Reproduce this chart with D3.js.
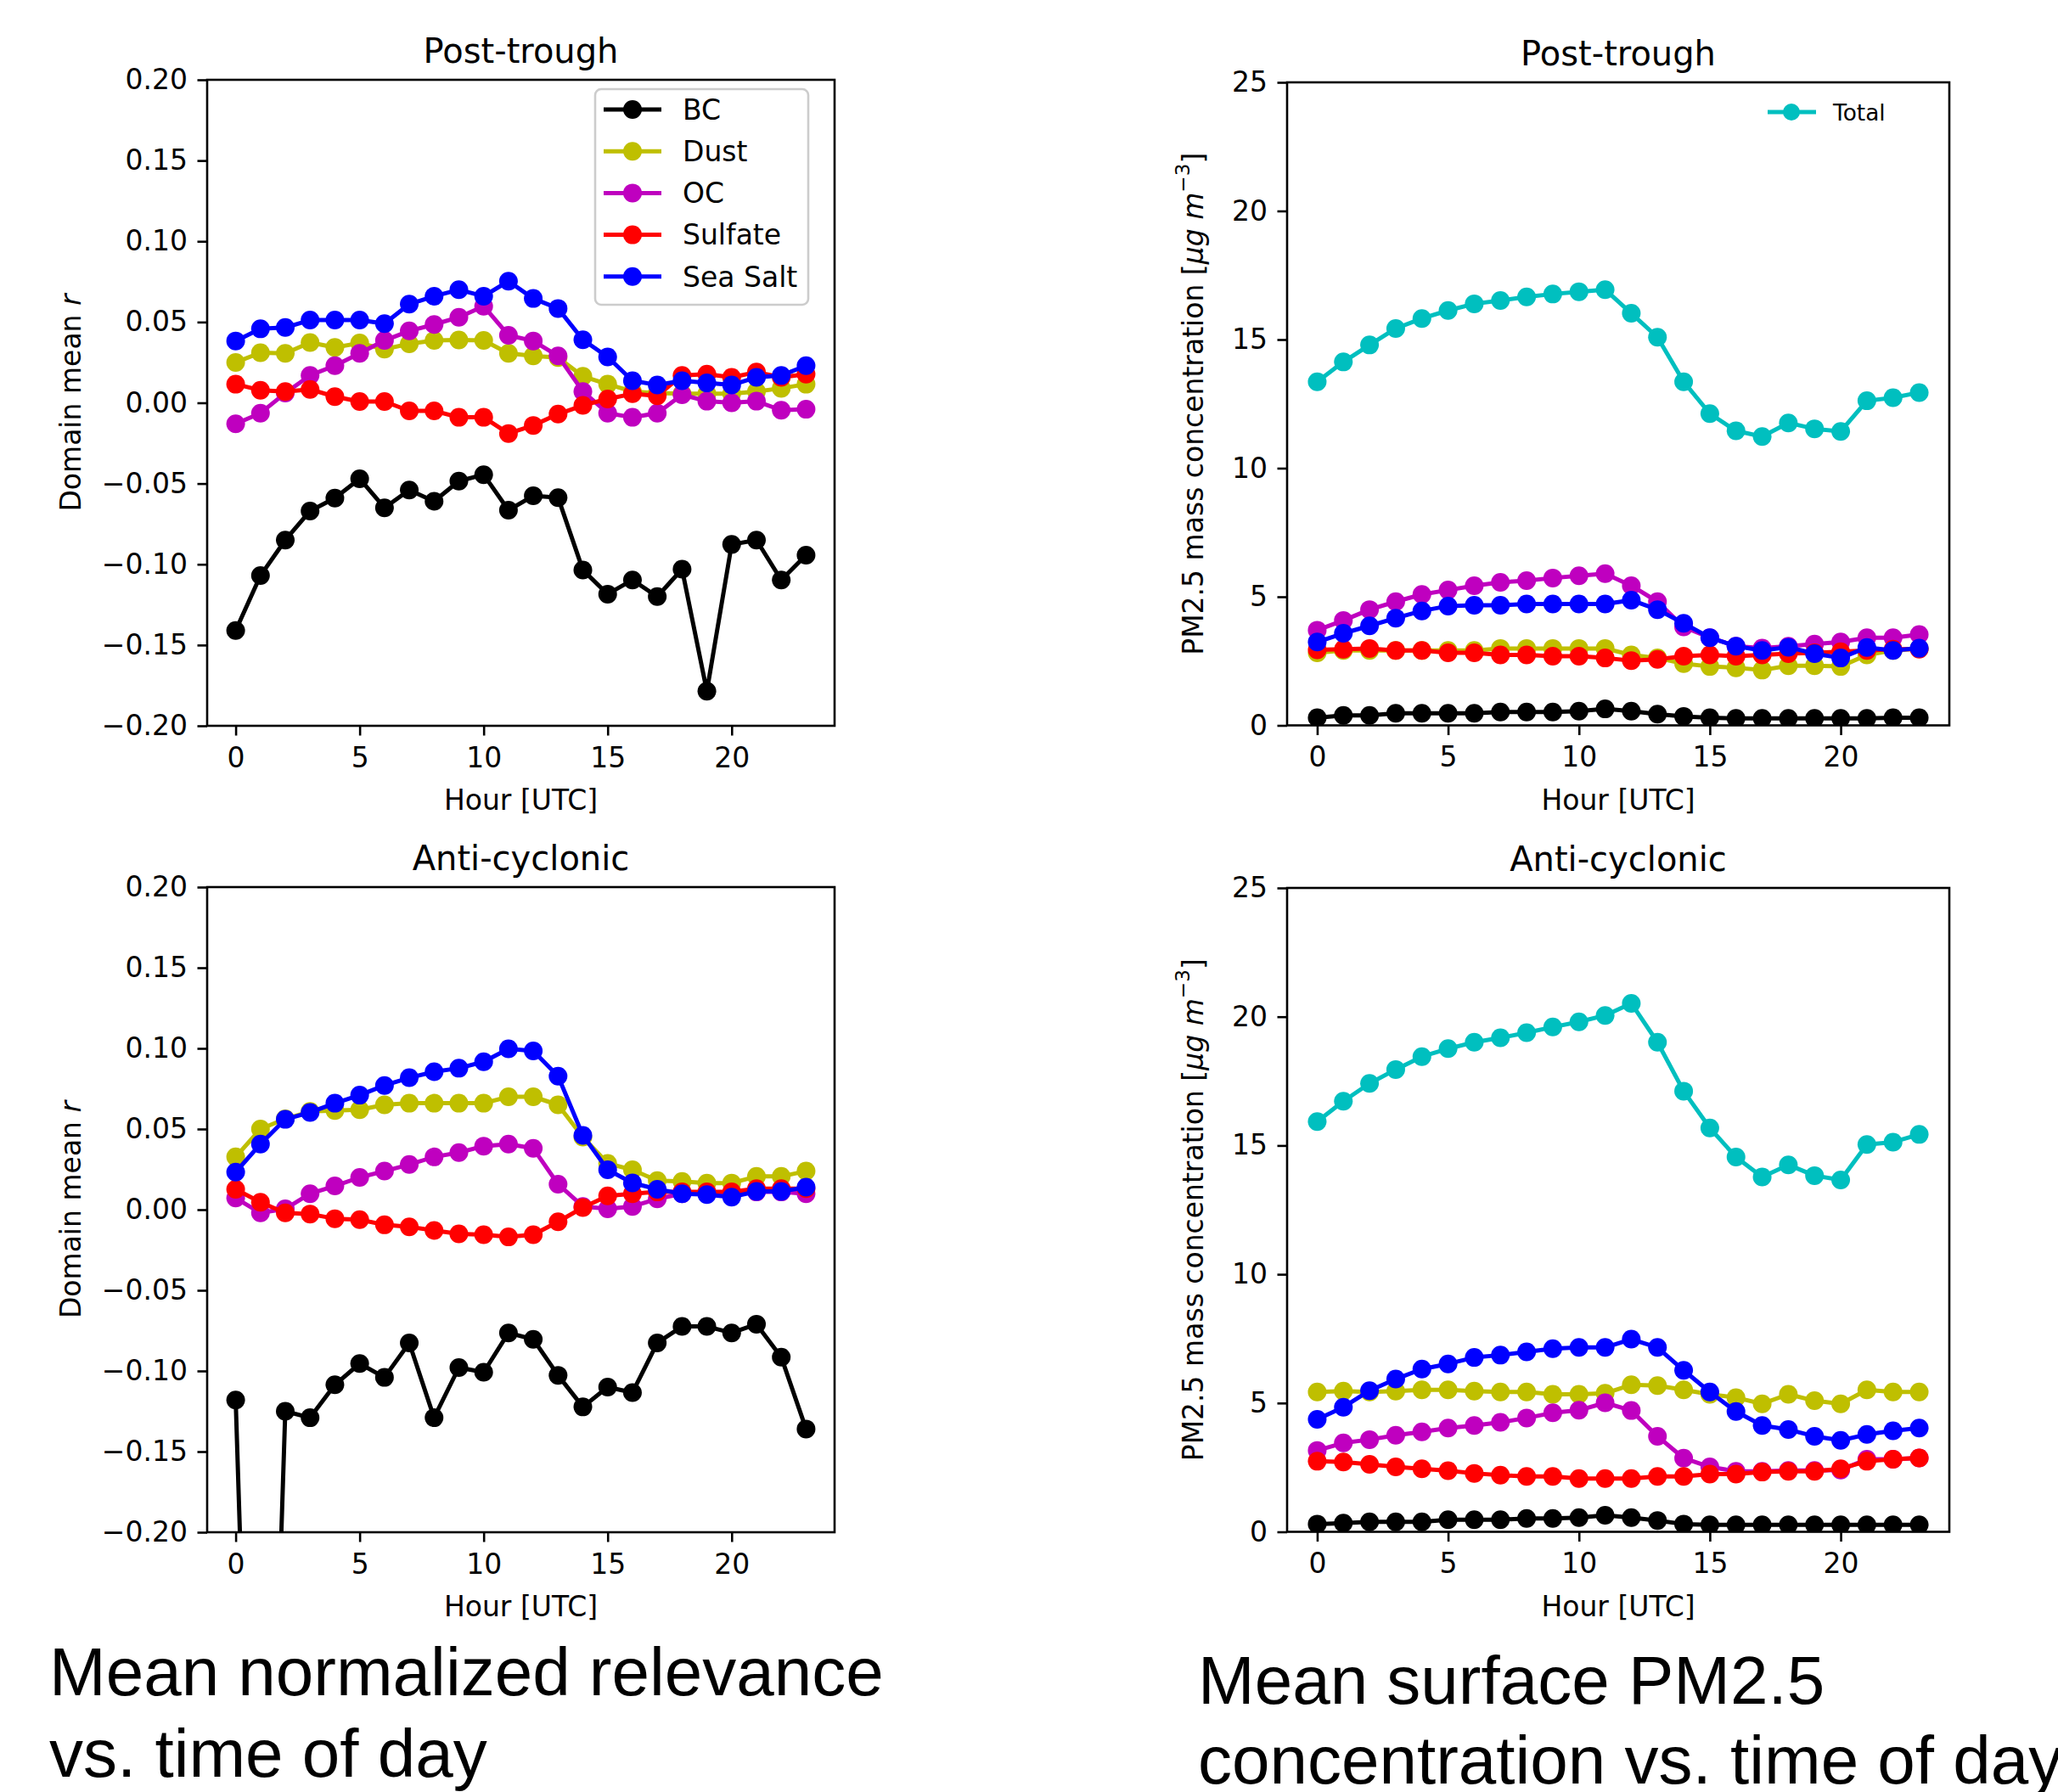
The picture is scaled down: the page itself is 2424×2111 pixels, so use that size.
<!DOCTYPE html>
<html><head><meta charset="utf-8">
<script src="https://cdn.jsdelivr.net/npm/d3@7"></script>
<style>body{margin:0;background:#fff;} svg{display:block}</style>
</head><body><svg id="c" width="2424" height="2111"></svg>
<script>
// ---------- DATA ----------
const hours = [0,1,2,3,4,5,6,7,8,9,10,11,12,13,14,15,16,17,18,19,20,21,22,23];
const hourTicks = [0,5,10,15,20];
const relevanceTicks = [0.20,0.15,0.10,0.05,0.00,-0.05,-0.10,-0.15,-0.20];
const concTicks = [0,5,10,15,20,25];
const speciesNames = ["BC","Dust","OC","Sulfate","Sea Salt"];
const speciesColors = ["#000000","#bfbf00","#bf00bf","#ff0000","#0000ff"];
const totalColor = "#00bfbf";

// Post-trough, mean normalized relevance
const ptRelBC      = [-0.141,-0.107,-0.085,-0.067,-0.059,-0.047,-0.065,-0.054,-0.061,-0.0485,-0.0445,-0.0665,-0.0576,-0.0587,-0.1035,-0.1185,-0.1097,-0.120,-0.103,-0.1786,-0.0877,-0.085,-0.1097,-0.0944];
const ptRelDust    = [0.025,0.031,0.0306,0.0373,0.0343,0.037,0.0332,0.0365,0.0386,0.0389,0.0386,0.0306,0.029,0.028,0.0164,0.0115,0.007,0.006,0.0056,0.0056,0.0056,0.007,0.009,0.0115];
const ptRelOC      = [-0.013,-0.0064,0.006,0.017,0.023,0.0306,0.0386,0.0445,0.0485,0.053,0.0598,0.0418,0.0383,0.029,0.007,-0.0064,-0.009,-0.0064,0.005,0.001,0.0,0.001,-0.0046,-0.004];
const ptRelSulfate = [0.0115,0.0078,0.007,0.0083,0.0038,0.0008,0.0008,-0.005,-0.005,-0.009,-0.009,-0.019,-0.014,-0.007,-0.0016,0.0024,0.0056,0.0043,0.017,0.0177,0.0158,0.019,0.0158,0.0177];
const ptRelSeaSalt = [0.0383,0.0458,0.0466,0.0512,0.0512,0.0512,0.049,0.0611,0.066,0.070,0.066,0.0753,0.0646,0.0584,0.039,0.0284,0.0137,0.011,0.0137,0.0123,0.011,0.0158,0.0169,0.023];

// Anti-cyclonic, mean normalized relevance
const acRelBC      = [-0.118,-0.6,-0.125,-0.129,-0.1086,-0.0954,-0.104,-0.0826,-0.129,-0.0979,-0.1008,-0.0764,-0.0804,-0.1027,-0.1223,-0.110,-0.1134,-0.0826,-0.0724,-0.0724,-0.0764,-0.071,-0.0914,-0.136];
const acRelDust    = [0.0327,0.050,0.0563,0.0609,0.0614,0.062,0.065,0.066,0.066,0.066,0.066,0.070,0.070,0.065,0.045,0.0287,0.0247,0.018,0.0175,0.0164,0.0165,0.0206,0.0206,0.0239];
const acRelOC      = [0.0072,-0.002,0.0005,0.0099,0.0147,0.020,0.0239,0.028,0.0327,0.0354,0.0394,0.0407,0.038,0.0158,0.002,0.0005,0.002,0.0067,0.0099,0.0099,0.0099,0.011,0.011,0.0099];
const acRelSulfate = [0.0126,0.0046,-0.002,-0.0027,-0.0056,-0.0062,-0.0094,-0.0107,-0.0129,-0.015,-0.0155,-0.0169,-0.0155,-0.0075,0.0013,0.0086,0.0099,0.011,0.011,0.011,0.011,0.013,0.013,0.013];
const acRelSeaSalt = [0.0233,0.0407,0.056,0.0603,0.066,0.071,0.077,0.0818,0.0855,0.0877,0.0917,0.0997,0.0984,0.0828,0.0461,0.0247,0.0166,0.0126,0.0099,0.0094,0.0078,0.0113,0.0113,0.0139];

// Post-trough, PM2.5 mass concentration
const ptConcBC      = [0.30,0.39,0.39,0.47,0.47,0.47,0.47,0.52,0.52,0.52,0.55,0.64,0.55,0.44,0.35,0.30,0.27,0.27,0.27,0.27,0.27,0.27,0.30,0.30];
const ptConcDust    = [2.82,2.91,2.91,2.91,2.91,2.91,2.91,2.99,2.99,2.99,2.99,2.99,2.74,2.62,2.40,2.29,2.24,2.15,2.32,2.32,2.29,2.74,2.91,2.99];
const ptConcOC      = [3.70,4.08,4.50,4.81,5.09,5.26,5.43,5.56,5.63,5.73,5.82,5.90,5.43,4.81,3.83,3.41,3.08,3.00,3.08,3.16,3.24,3.41,3.41,3.53];
const ptConcSulfate = [2.94,2.96,2.99,2.91,2.91,2.82,2.82,2.74,2.74,2.69,2.69,2.62,2.52,2.57,2.69,2.74,2.69,2.74,2.79,2.82,2.86,2.91,2.96,2.96];
const ptConcSeaSalt = [3.24,3.58,3.87,4.17,4.45,4.64,4.67,4.67,4.72,4.72,4.72,4.72,4.87,4.50,3.97,3.41,3.08,2.91,3.04,2.79,2.62,3.03,2.91,3.00];
const ptConcTotal   = [13.36,14.13,14.79,15.43,15.82,16.13,16.39,16.52,16.66,16.77,16.86,16.94,16.02,15.09,13.36,12.12,11.45,11.23,11.76,11.53,11.43,12.62,12.74,12.94];

// Anti-cyclonic, PM2.5 mass concentration
const acConcBC      = [0.30,0.34,0.39,0.39,0.39,0.47,0.47,0.47,0.52,0.52,0.55,0.64,0.55,0.44,0.30,0.27,0.27,0.27,0.27,0.27,0.27,0.27,0.27,0.27];
const acConcDust    = [5.43,5.46,5.43,5.46,5.51,5.51,5.46,5.43,5.43,5.34,5.34,5.38,5.71,5.68,5.51,5.34,5.21,4.97,5.34,5.09,4.97,5.51,5.43,5.43];
const acConcOC      = [3.16,3.45,3.58,3.75,3.88,4.03,4.13,4.25,4.42,4.62,4.72,5.01,4.71,3.71,2.86,2.52,2.35,2.35,2.38,2.38,2.40,2.82,2.82,2.87];
const acConcSulfate = [2.74,2.71,2.62,2.52,2.45,2.37,2.27,2.20,2.15,2.15,2.07,2.07,2.07,2.15,2.15,2.24,2.24,2.32,2.35,2.35,2.45,2.74,2.82,2.87];
const acConcSeaSalt = [4.37,4.84,5.48,5.93,6.32,6.52,6.77,6.86,6.99,7.11,7.16,7.16,7.48,7.16,6.27,5.43,4.67,4.13,3.97,3.71,3.55,3.78,3.92,4.03];
const acConcTotal   = [15.93,16.72,17.41,17.95,18.45,18.76,19.01,19.18,19.38,19.60,19.80,20.05,20.52,19.01,17.11,15.68,14.55,13.78,14.25,13.83,13.66,15.04,15.13,15.43];

// ---------- DRAW ----------
const svg = d3.select("#c");
svg.append("rect").attr("width",2424).attr("height",2111).attr("fill","#fff");
const FONT = "DejaVu Sans, sans-serif";
const TICK_FS = 33, TITLE_FS = 40;
const LW = 5, MR = 11;

const panels = [
  {id:"p1", l:244, r:983, t:94, b:855, domain:[-0.2,0.2], yticks:relevanceTicks, fmt:d3.format(".2f"),
   title:"Post-trough", ylab:"rel", ylabX:83, legend:"species",
   series:[ptRelBC,ptRelDust,ptRelOC,ptRelSulfate,ptRelSeaSalt], total:null},
  {id:"p2", l:1516, r:2296, t:97, b:854.5, domain:[0,25], yticks:concTicks, fmt:d3.format("d"),
   title:"Post-trough", ylab:"conc", ylabX:1405, legend:"total",
   series:[ptConcBC,ptConcDust,ptConcOC,ptConcSulfate,ptConcSeaSalt], total:ptConcTotal},
  {id:"p3", l:244, r:983, t:1045, b:1805, domain:[-0.2,0.2], yticks:relevanceTicks, fmt:d3.format(".2f"),
   title:"Anti-cyclonic", ylab:"rel", ylabX:83, legend:null,
   series:[acRelBC,acRelDust,acRelOC,acRelSulfate,acRelSeaSalt], total:null},
  {id:"p4", l:1516, r:2296, t:1046, b:1804.5, domain:[0,25], yticks:concTicks, fmt:d3.format("d"),
   title:"Anti-cyclonic", ylab:"conc", ylabX:1405, legend:null,
   series:[acConcBC,acConcDust,acConcOC,acConcSulfate,acConcSeaSalt], total:acConcTotal}
];

const defs = svg.append("defs");

panels.forEach(p => {
  const x = d3.scaleLinear().domain([-1.15, 24.15]).range([p.l, p.r]);
  const y = d3.scaleLinear().domain(p.domain).range([p.b, p.t]);
  const g = svg.append("g");

  defs.append("clipPath").attr("id","clip-"+p.id)
    .append("rect").attr("x",p.l).attr("y",p.t).attr("width",p.r-p.l).attr("height",p.b-p.t);

  const plot = g.append("g").attr("clip-path","url(#clip-"+p.id+")");
  const line = d3.line().x((d,i)=>x(hours[i])).y(d=>y(d));

  function drawSeries(vals, color){
    plot.append("path").datum(vals).attr("d",line)
      .attr("fill","none").attr("stroke",color).attr("stroke-width",LW)
      .attr("stroke-linejoin","round");
    plot.append("g").selectAll("circle").data(vals).join("circle")
      .attr("cx",(d,i)=>x(hours[i])).attr("cy",d=>y(d)).attr("r",MR).attr("fill",color);
  }
  p.series.forEach((vals,k)=>drawSeries(vals, speciesColors[k]));
  if (p.total) drawSeries(p.total, totalColor);

  // axes (ticks only)
  const xa = g.append("g").attr("transform",`translate(0,${p.b})`)
    .call(d3.axisBottom(x).tickValues(hourTicks).tickSize(11.5).tickPadding(14).tickSizeOuter(0));
  const ya = g.append("g").attr("transform",`translate(${p.l},0)`)
    .call(d3.axisLeft(y).tickValues(p.yticks).tickFormat(p.fmt).tickSize(11.5).tickPadding(11.5).tickSizeOuter(0));
  [xa,ya].forEach(a=>{
    a.select(".domain").remove();
    a.selectAll("line").attr("stroke","#000").attr("stroke-width",2.6);
    a.selectAll("text").attr("font-family",FONT).attr("font-size",TICK_FS).attr("fill","#000");
  });

  // spines
  g.append("rect").attr("x",p.l).attr("y",p.t).attr("width",p.r-p.l).attr("height",p.b-p.t)
    .attr("fill","none").attr("stroke","#000").attr("stroke-width",2.6);

  // title
  g.append("text").attr("x",(p.l+p.r)/2).attr("y",p.t-20).attr("text-anchor","middle")
    .attr("font-family",FONT).attr("font-size",TITLE_FS).attr("fill","#000").text(p.title);

  // x label
  g.append("text").attr("x",(p.l+p.r)/2).attr("y",p.b+99).attr("text-anchor","middle")
    .attr("font-family",FONT).attr("font-size",TICK_FS).attr("fill","#000").text("Hour [UTC]");

  // y label
  const cy = (p.t+p.b)/2;
  const yl = g.append("text").attr("transform",`translate(${p.ylabX},${cy}) rotate(-90)`)
    .attr("text-anchor","middle").attr("dominant-baseline","central")
    .attr("font-family",FONT).attr("font-size",TICK_FS).attr("fill","#000");
  if (p.ylab === "rel") {
    yl.append("tspan").text("Domain mean ");
    yl.append("tspan").attr("font-style","italic").text("r");
  } else {
    yl.append("tspan").text("PM2.5 mass concentration [");
    yl.append("tspan").attr("font-style","italic").text("μg");
    yl.append("tspan").text(" ");
    yl.append("tspan").attr("font-style","italic").text("m");
    yl.append("tspan").attr("font-size",TICK_FS*0.7).attr("dy",-12).text("−3");
    yl.append("tspan").attr("dy",12).text("]");
  }

  // legends
  if (p.legend === "species") {
    const lg = g.append("g");
    lg.append("rect").attr("x",701).attr("y",105).attr("width",251).attr("height",254).attr("rx",7)
      .attr("fill","#fff").attr("fill-opacity",0.8).attr("stroke","#cccccc").attr("stroke-width",2.6);
    speciesNames.forEach((name,k)=>{
      const yy = 129 + k*49.2;
      lg.append("line").attr("x1",711).attr("x2",779).attr("y1",yy).attr("y2",yy)
        .attr("stroke",speciesColors[k]).attr("stroke-width",LW);
      lg.append("circle").attr("cx",745).attr("cy",yy).attr("r",MR).attr("fill",speciesColors[k]);
      lg.append("text").attr("x",804).attr("y",yy).attr("dy","0.36em")
        .attr("font-family",FONT).attr("font-size",TICK_FS).attr("fill","#000").text(name);
    });
  } else if (p.legend === "total") {
    const lg = g.append("g");
    const yy = 132;
    lg.append("line").attr("x1",2082).attr("x2",2139).attr("y1",yy).attr("y2",yy)
      .attr("stroke",totalColor).attr("stroke-width",LW);
    lg.append("circle").attr("cx",2110).attr("cy",yy).attr("r",MR-1).attr("fill",totalColor);
    lg.append("text").attr("x",2159).attr("y",yy).attr("dy","0.36em")
      .attr("font-family",FONT).attr("font-size",26.4).attr("fill","#000").text("Total");
  }
});

// captions
const CAP = "Liberation Sans, Arial, sans-serif";
function caption(x, y1, y2, l1, l2){
  svg.append("text").attr("x",x).attr("y",y1).attr("font-family",CAP).attr("font-size",80).attr("fill","#000").text(l1);
  svg.append("text").attr("x",x).attr("y",y2).attr("font-family",CAP).attr("font-size",80).attr("fill","#000").text(l2);
}
caption(58, 1997, 2093, "Mean normalized relevance", "vs. time of day");
caption(1411, 2007, 2101, "Mean surface PM2.5", "concentration vs. time of day");
</script></body></html>
